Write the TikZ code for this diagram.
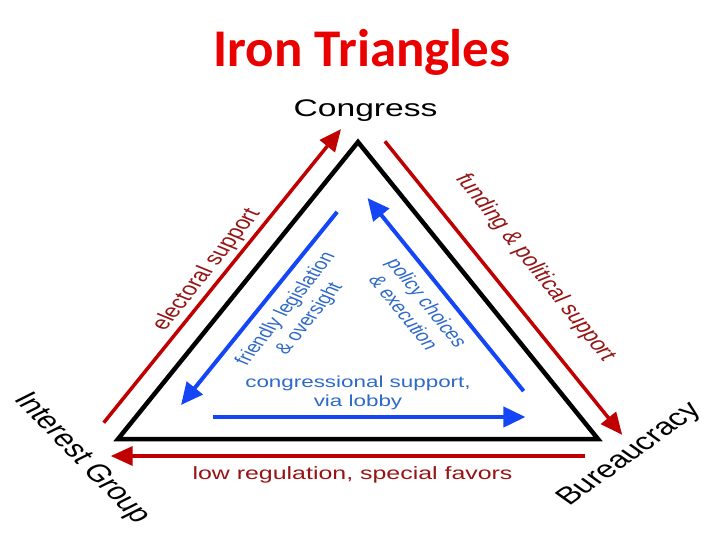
\documentclass[tikz,border=0pt]{standalone}
\usepackage{fontspec}
\setmainfont{Liberation Sans}
\newfontfamily\titlefont{Carlito}
\usepackage{tikz}
\usetikzlibrary{positioning}
\usetikzlibrary{calc}
\usetikzlibrary{arrows.meta}

\definecolor{titlered}{RGB}{235,0,0}
\definecolor{arrowred}{RGB}{192,0,0}
\definecolor{textred}{RGB}{150,20,20}
\definecolor{arrowblue}{RGB}{20,70,245}
\definecolor{textblue}{RGB}{45,105,200}

\tikzset{
  redarrow/.style={draw=arrowred, line width=3.5pt, -{Triangle[length=22pt,width=19pt]}},
  bluearrow/.style={draw=arrowblue, line width=4pt, -{Triangle[length=22pt,width=20pt]}},
  vlabel/.style={inner sep=0pt, font=\fontsize{24}{28}\selectfont},
  redlabel/.style={inner sep=0pt, text=textred, font=\fontsize{18.5}{22}\selectfont},
  bluelabel/.style={inner sep=0pt, text=textblue, align=center, font=\fontsize{16}{19.4}\selectfont},
}

\begin{document}
\begin{tikzpicture}[x=1pt, y=-1pt]
    \useasboundingbox (0,0) rectangle (720,540);

    % Titolo
    \node[anchor=base, inner sep=0pt, text=titlered,
          font=\titlefont\bfseries\fontsize{53}{60}\selectfont] (title) at (362,67) {Iron Triangles};

    \begin{scope}[shift={(358,0)}, xscale=1.4, transform shape]
    % Vertici del triangolo
    \coordinate (cong) at (0,142);
    \coordinate (intg) at (-171.4,439);
    \coordinate (bur) at (171.4,439);
    \draw[line width=4.5pt, line join=miter] (cong) -- (intg) -- (bur) -- cycle;

    % Frecce rosse esterne
    \coordinate (elA) at (-181.6,422.7);
    \coordinate (elB) at (-12.1,129.1);
    \coordinate (fuA) at (19.2,141.3);
    \coordinate (fuB) at (188.7,434.9);
    \coordinate (loA) at (162.4,456);
    \coordinate (loB) at (-176.6,456);
    \draw[redarrow] (elA) -- (elB);
    \draw[redarrow] (fuA) -- (fuB);
    \draw[redarrow] (loA) -- (loB);

    % Frecce blu interne
    \coordinate (frA) at (-14.9,211.9);
    \coordinate (frB) at (-126.4,405);
    \coordinate (poA) at (118.3,391.1);
    \coordinate (poB) at (6.8,198);
    \coordinate (csA) at (-103.4,417);
    \coordinate (csB) at (119.6,417);
    \draw[bluearrow] (frA) -- (frB);
    \draw[bluearrow] (poA) -- (poB);
    \draw[bluearrow] (csA) -- (csB);

    % Nomi dei vertici
    \node[vlabel, anchor=base] (conglbl) at (5.4,117) {Congress};
    \node[vlabel, rotate=-55] (intglbl) at (-197.5,458.5) {Interest Group};
    \node[vlabel, rotate=45] (burlbl) at (194.3,455) {Bureaucracy};

    % Etichette
    \node[redlabel, rotate=60] (electoral) at (-107.9,270.1) {electoral support};
    \node[redlabel, rotate=-60] (funding) at (126.3,267.7) {funding \& political support};
    \node[redlabel, anchor=base, font=\fontsize{17.8}{21}\selectfont] (favors) at (-3.9,479) {low regulation, special favors};
    \node[bluelabel, rotate=60] (friendly) at (-42.9,314) {friendly legislation\\\& oversight};
    \node[bluelabel, rotate=-60] (policy) at (41.25,307.5) {policy choices\\\& execution};
    \node[bluelabel] (lobby) at (0,393) {congressional support,\\via lobby};
    \end{scope}
\end{tikzpicture}
\end{document}
